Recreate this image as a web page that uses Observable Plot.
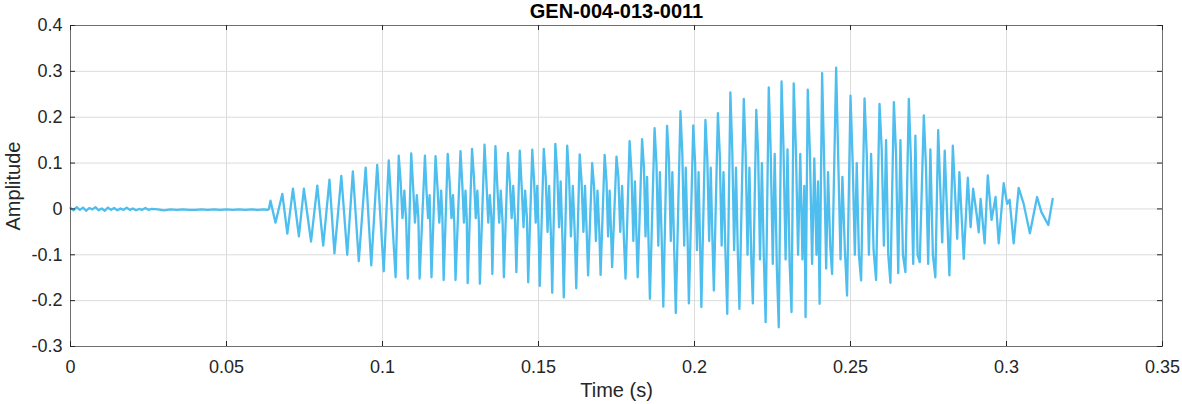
<!DOCTYPE html>
<html>
<head>
<meta charset="utf-8">
<script src="https://cdn.jsdelivr.net/npm/d3@7"></script>
<script src="https://cdn.jsdelivr.net/npm/@observablehq/plot@0.6"></script>
<style>
  html, body { margin: 0; padding: 0; background: #fff; }
</style>
</head>
<body>
<div id="chart"></div>
<script>
// ---- data (time in ms, amplitude) ----
const chartTitle = "GEN-004-013-0011";
const xLabel = "Time (s)";
const yLabel = "Amplitude";
const xTicks = [0, 0.05, 0.1, 0.15, 0.2, 0.25, 0.3, 0.35];
const yTicks = [-0.3, -0.2, -0.1, 0, 0.1, 0.2, 0.3, 0.4];

// pre-voicing background noise
const noise = [
  [0,0.002],[1,-0.003],[2,0.004],[3,-0.002],[4,0.003],[5,-0.004],[6,0.002],[7,-0.001],[8,0.004],[9,-0.003],
  [10,0.001],[11,-0.004],[12,0.003],[13,-0.002],[14,0.002],[15,-0.003],[16,0.001],[17,-0.002],[18,0.003],[19,-0.002],
  [20,0.001],[21,-0.003],[22,0.0],[23,-0.002],[24,0.002],[25,-0.002],[26,0.0],[28,-0.001],[30,-0.003],[32,-0.001],
  [34,-0.002],[36,-0.001],[38,-0.002],[40,-0.002],[42,-0.001],[44,-0.002],[46,-0.001],[48,-0.002],[50,-0.001],[52,-0.002],
  [54,-0.001],[56,-0.002],[58,-0.001],[60,-0.002],[62,-0.001],[63.2,-0.002]
];

// voicing onset
const onset = [
  [63.6,0.0],[64.1,0.018],[65.7,-0.03],[67.9,0.033],[69.5,-0.054],[71.3,0.044],[73.2,-0.06],[74.8,0.044],
  [77.1,-0.071],[79.1,0.051],[81.0,-0.08],[83.0,0.064],[84.6,-0.097],[86.8,0.072],[88.7,-0.1],[90.5,0.082],
  [92.4,-0.114],[94.6,0.09],[96.4,-0.123],[98.3,0.096],[100.4,-0.136],[102.0,0.106]
];

// sustained voicing: trough, peak, then inner wiggles per glottal cycle
const voiced = [
  [104.2,-0.149],[105.2,0.116],[105.8,0.06],[106.4,-0.02],[107.0,0.04],[107.6,-0.03],
  [108.1,-0.152],[109.2,0.121],[109.8,0.05],[110.4,-0.03],[111.0,0.03],[111.5,-0.02],
  [111.9,-0.152],[113.6,0.116],[114.1,0.04],[114.6,-0.02],[115.1,0.03],
  [115.7,-0.149],[117.0,0.115],[117.6,0.05],[118.2,-0.03],[118.8,0.04],[119.2,-0.02],
  [119.6,-0.155],[120.9,0.12],[121.5,0.06],[122.1,-0.02],[122.6,0.03],[123.0,-0.03],
  [123.4,-0.155],[125.0,0.126],[125.6,0.05],[126.1,-0.03],[126.6,0.04],[127.0,-0.02],
  [127.3,-0.162],[128.7,0.131],[129.3,0.07],[129.9,-0.02],[130.4,0.04],[130.9,-0.03],
  [131.2,-0.163],[132.7,0.14],[133.3,0.06],[133.9,-0.03],[134.4,0.03],[134.9,-0.02],
  [135.2,-0.142],[136.2,0.137],[136.8,0.05],[137.4,-0.03],[137.9,0.04],[138.5,-0.03],
  [138.9,-0.149],[140.2,0.122],[140.8,0.06],[141.4,-0.02],[141.9,0.05],[142.5,-0.03],
  [142.9,-0.138],[144.0,0.127],[144.6,0.05],[145.2,-0.04],[145.7,0.04],[146.3,-0.02],
  [146.7,-0.16],[148.0,0.129],[148.6,0.06],[149.1,-0.03],[149.6,0.05],[150.0,-0.04],
  [150.4,-0.168],[151.7,0.131],[152.3,0.07],[152.9,-0.05],[153.4,0.05],[154.0,-0.06],
  [154.4,-0.183],[155.4,0.142],[156.0,0.08],[156.6,-0.04],[157.1,0.06],[157.7,-0.07],
  [158.1,-0.193],[159.2,0.138],[159.8,0.07],[160.4,-0.06],[161.0,0.05],[161.6,-0.05],
  [162.1,-0.173],[163.2,0.119],[163.8,0.06],[164.4,-0.05],[164.9,0.05],[165.5,-0.06],
  [165.9,-0.145],[167.2,0.1],[167.8,0.05],[168.4,-0.07],[168.9,0.04],[169.5,-0.05],
  [169.9,-0.144],[171.2,0.118],[171.8,0.06],[172.3,-0.06],[172.8,0.04],[173.2,-0.04],
  [173.6,-0.127],[175.0,0.114],[175.6,0.07],[176.2,-0.05],[176.8,0.05],[177.4,-0.07],
  [177.9,-0.152],[179.2,0.148],[179.8,0.08],[180.4,-0.07],[180.9,0.06],[181.4,-0.06],
  [181.8,-0.149],[183.2,0.152],[183.8,0.09],[184.3,-0.06],[184.8,0.07],[185.3,-0.08],
  [185.7,-0.196],[187.2,0.176],[187.8,0.1],[188.4,-0.08],[188.9,0.08],[189.5,-0.07],
  [190.0,-0.213],[191.2,0.181],[191.8,0.11],[192.4,-0.07],[192.9,0.08],[193.5,-0.09],
  [194.0,-0.227],[195.5,0.213],[196.1,0.12],[196.7,-0.08],[197.2,0.09],[197.8,-0.07],
  [198.2,-0.206],[199.6,0.182],[200.2,0.1],[200.8,-0.09],[201.3,0.08],[201.8,-0.08],
  [202.2,-0.214],[203.5,0.194],[204.1,0.11],[204.7,-0.07],[205.2,0.09],[205.8,-0.08],
  [206.2,-0.178],[207.5,0.209],[208.1,0.12],[208.7,-0.08],[209.3,0.08],[209.9,-0.09],
  [210.5,-0.229],[211.5,0.254],[212.1,0.13],[212.7,-0.09],[213.3,0.09],[213.9,-0.1],
  [214.4,-0.218],[215.8,0.24],[216.4,0.12],[217.0,-0.1],[217.6,0.09],[218.2,-0.11],
  [218.7,-0.206],[219.8,0.216],[220.4,0.12],[221.0,-0.11],[221.6,0.1],[222.2,-0.1],
  [222.8,-0.247],[223.8,0.265],[224.4,0.13],[225.1,-0.12],[225.7,0.12],[226.4,-0.13],
  [227.0,-0.258],[227.9,0.278],[228.5,0.14],[229.2,-0.11],[229.8,0.13],[230.5,-0.12],
  [231.1,-0.225],[231.8,0.274],[232.5,0.13],[233.2,-0.1],[233.9,0.12],[234.6,-0.11],[235.2,0.05],
  [235.6,-0.236],[236.3,0.26],[237.0,0.12],[237.7,-0.12],[238.4,0.11],[239.1,-0.1],[239.6,0.06],
  [240.1,-0.207],[240.9,0.296],[241.5,0.12],[242.2,-0.13],[242.8,0.08],[243.5,-0.08],
  [244.1,-0.142],[245.4,0.308],[246.1,0.1],[246.8,-0.11],[247.4,0.07],[248.2,-0.09],
  [248.9,-0.189],[250.0,0.247],[250.7,0.1],[251.4,-0.1],[252.0,0.1],[252.7,-0.1],
  [253.4,-0.156],[254.5,0.241],[255.2,0.12],[255.9,-0.1],[256.6,0.12],[257.4,-0.09],
  [258.2,-0.155],[259.3,0.229],[260.0,0.13],[260.7,-0.08],[261.4,0.15],[262.1,-0.1],
  [262.8,-0.161],[263.9,0.233],[264.6,0.12],[265.3,-0.14],[266.0,0.15],[266.8,-0.1],
  [267.6,-0.138],[268.7,0.24],[269.4,0.1],[270.1,-0.12],[270.8,0.16],[271.5,-0.1],
  [272.2,-0.116],[273.5,0.204],[274.2,0.09],[274.9,-0.12],[275.6,0.13],[276.4,-0.1]
];

// decay / offset
const tail = [
  [277.2,-0.149],[278.1,0.172],[279.4,-0.073],[280.2,0.127],[281.7,-0.145],[282.8,0.138],[284.2,-0.065],
  [284.9,0.08],[286.3,-0.109],[287.6,0.068],[288.5,-0.04],[289.3,0.044],[290.4,-0.01],[291.1,-0.051],
  [291.7,0.022],[293.0,-0.075],[294.0,0.073],[295.2,-0.024],[296.5,0.026],[297.5,-0.075],[299.1,0.056],
  [300.2,0.011],[301.0,0.02],[302.3,-0.075],[303.9,0.046],[305.5,0.011],[307.5,-0.053],[309.8,0.026],
  [311.2,-0.007],[313.4,-0.035],[314.8,0.022]
];

// ---- build table (ms -> s) ----
const samples = [...noise, ...onset, ...voiced, ...tail].map(([ms, a]) => ({t: ms / 1000, a}));

const W = 1182, H = 404;
const mL = 70, mR = 20, mT = 25, mB = 58;
const plotW = W - mL - mR, plotH = H - mT - mB;
const ink = "#262626";
const tick = 5;

const fmt = d => (d === 0 ? "0" : String(+d.toFixed(2)));

const chart = Plot.plot({
  width: W,
  height: H,
  marginLeft: mL,
  marginRight: mR,
  marginTop: mT,
  marginBottom: mB,
  style: {fontFamily: "'Liberation Sans', Arial, sans-serif", fontSize: "18px", color: ink, background: "#fff"},
  x: {domain: [0, 0.35]},
  y: {domain: [-0.3, 0.4]},
  marks: [
    Plot.gridX(xTicks, {stroke: "#dcdcdc", strokeOpacity: 1}),
    Plot.gridY(yTicks, {stroke: "#dcdcdc", strokeOpacity: 1}),
    Plot.line(samples, {x: "t", y: "a", stroke: "#4DBEEE", strokeWidth: 2.3, strokeLinejoin: "round"}),
    Plot.frame({stroke: "#6f6f6f"}),
    // inward ticks on all four sides
    Plot.tickX(xTicks, {x: d => d, insetTop: plotH - tick, stroke: ink}),
    Plot.tickX(xTicks, {x: d => d, insetBottom: plotH - tick, stroke: ink}),
    Plot.tickY(yTicks, {y: d => d, insetRight: plotW - tick, stroke: ink}),
    Plot.tickY(yTicks, {y: d => d, insetLeft: plotW - tick, stroke: ink}),
    Plot.axisX({ticks: xTicks, tickSize: 0, tickPadding: 14, tickFormat: fmt, label: null, fontSize: 18, fill: ink}),
    Plot.axisY({ticks: yTicks, tickSize: 0, tickPadding: 8, tickFormat: fmt, label: null, fontSize: 18, fill: ink}),
    Plot.text([chartTitle], {text: d => d, frameAnchor: "top", lineAnchor: "middle", dy: -14, fontWeight: "bold", fontSize: 20, fill: "#000"}),
    Plot.text([xLabel], {text: d => d, frameAnchor: "bottom", lineAnchor: "middle", dy: 44, fontSize: 20, fill: ink}),
    Plot.text([yLabel], {text: d => d, frameAnchor: "left", textAnchor: "middle", lineAnchor: "middle", dx: -57, rotate: -90, fontSize: 20, fill: ink})
  ]
});
document.getElementById("chart").appendChild(chart);
</script>
</body>
</html>
